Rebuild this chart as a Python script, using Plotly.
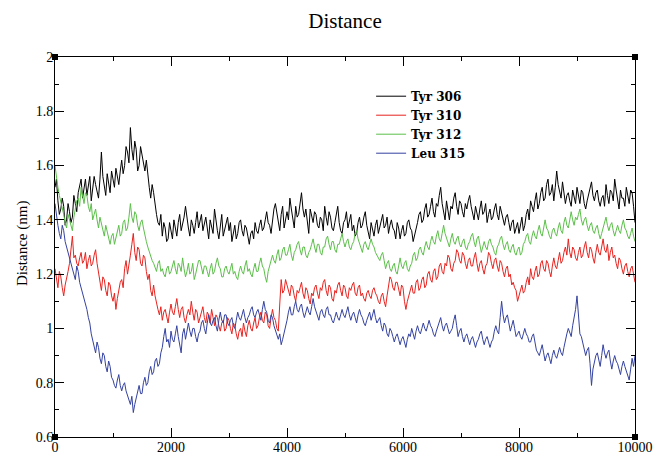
import plotly.graph_objects as go

STEP_PS = 25

tyr306 = [
    1.52, 1.55, 1.47, 1.42, 1.44, 1.48, 1.45, 1.38, 1.40, 1.46, 1.43, 1.39, 1.41, 1.49, 1.46, 1.43, 1.50, 1.53, 1.55, 1.48,
    1.52, 1.55, 1.49, 1.52, 1.56, 1.47, 1.51, 1.56, 1.53, 1.50, 1.48, 1.55, 1.65, 1.56, 1.52, 1.49, 1.57, 1.53, 1.50, 1.58,
    1.55, 1.52, 1.59, 1.56, 1.53, 1.58, 1.62, 1.57, 1.60, 1.67, 1.65, 1.61, 1.74, 1.66, 1.62, 1.69, 1.66, 1.58, 1.60, 1.67,
    1.64, 1.60, 1.58, 1.62, 1.56, 1.52, 1.48, 1.53, 1.50, 1.45, 1.42, 1.39, 1.38, 1.42, 1.34, 1.39, 1.37, 1.32, 1.33, 1.39,
    1.36, 1.33, 1.40, 1.37, 1.34, 1.39, 1.42, 1.36, 1.38, 1.41, 1.45, 1.40, 1.37, 1.34, 1.40, 1.38, 1.35, 1.39, 1.43, 1.37,
    1.39, 1.42, 1.36, 1.38, 1.41, 1.37, 1.33, 1.40, 1.38, 1.35, 1.44, 1.39, 1.36, 1.33, 1.39, 1.42, 1.34, 1.36, 1.38, 1.41,
    1.36, 1.39, 1.32, 1.35, 1.38, 1.33, 1.35, 1.39, 1.40, 1.36, 1.34, 1.38, 1.37, 1.34, 1.31, 1.35, 1.36, 1.33, 1.39, 1.36,
    1.35, 1.38, 1.40, 1.36, 1.37, 1.40, 1.43, 1.39, 1.38, 1.35, 1.41, 1.44, 1.46, 1.42, 1.39, 1.36, 1.42, 1.45, 1.37, 1.40,
    1.43, 1.40, 1.48, 1.44, 1.40, 1.37, 1.45, 1.41, 1.42, 1.46, 1.50, 1.44, 1.41, 1.44, 1.38, 1.35, 1.44, 1.41, 1.39, 1.43,
    1.42, 1.38, 1.37, 1.41, 1.40, 1.36, 1.45, 1.41, 1.38, 1.43, 1.41, 1.37, 1.36, 1.39, 1.42, 1.45, 1.39, 1.36, 1.35, 1.39,
    1.40, 1.43, 1.37, 1.40, 1.42, 1.36, 1.38, 1.34, 1.35, 1.39, 1.41, 1.37, 1.38, 1.41, 1.43, 1.38, 1.36, 1.33, 1.39, 1.36,
    1.34, 1.38, 1.40, 1.35, 1.37, 1.40, 1.42, 1.37, 1.38, 1.41, 1.35, 1.38, 1.40, 1.37, 1.36, 1.33, 1.39, 1.37, 1.33, 1.36,
    1.38, 1.34, 1.35, 1.39, 1.40, 1.37, 1.36, 1.32, 1.34, 1.37, 1.39, 1.42, 1.43, 1.39, 1.40, 1.44, 1.46, 1.41, 1.42, 1.45,
    1.48, 1.43, 1.41, 1.46, 1.45, 1.49, 1.52, 1.46, 1.43, 1.40, 1.47, 1.43, 1.40, 1.45, 1.44, 1.48, 1.50, 1.45, 1.42, 1.47,
    1.46, 1.43, 1.41, 1.46, 1.44, 1.47, 1.49, 1.45, 1.42, 1.40, 1.45, 1.42, 1.40, 1.44, 1.47, 1.42, 1.43, 1.46, 1.39, 1.42,
    1.44, 1.40, 1.41, 1.44, 1.46, 1.42, 1.40, 1.45, 1.43, 1.40, 1.38, 1.41, 1.42, 1.39, 1.36, 1.39, 1.40, 1.35, 1.37, 1.39,
    1.35, 1.38, 1.41, 1.36, 1.38, 1.42, 1.44, 1.40, 1.47, 1.45, 1.43, 1.47, 1.50, 1.44, 1.46, 1.50, 1.52, 1.47, 1.48, 1.53,
    1.55, 1.49, 1.50, 1.53, 1.47, 1.52, 1.58, 1.53, 1.51, 1.48, 1.54, 1.50, 1.46, 1.49, 1.50, 1.47, 1.45, 1.51, 1.49, 1.46,
    1.52, 1.48, 1.46, 1.51, 1.50, 1.46, 1.44, 1.47, 1.49, 1.52, 1.54, 1.49, 1.47, 1.50, 1.51, 1.47, 1.45, 1.48, 1.49, 1.45,
    1.53, 1.49, 1.46, 1.51, 1.50, 1.47, 1.55, 1.51, 1.47, 1.44, 1.51, 1.48, 1.48, 1.45, 1.52, 1.49, 1.46, 1.51, 1.50, 1.45,
    1.39,
]

tyr310 = [
    1.22, 1.18, 1.15, 1.21, 1.19, 1.15, 1.12, 1.16, 1.18, 1.21, 1.24, 1.29, 1.34, 1.26, 1.27, 1.24, 1.23, 1.26, 1.28, 1.24,
    1.25, 1.28, 1.22, 1.25, 1.27, 1.23, 1.24, 1.27, 1.29, 1.24, 1.20, 1.17, 1.14, 1.19, 1.18, 1.14, 1.12, 1.17, 1.16, 1.12,
    1.10, 1.13, 1.07, 1.11, 1.14, 1.17, 1.18, 1.15, 1.22, 1.25, 1.20, 1.23, 1.27, 1.31, 1.35, 1.28, 1.25, 1.30, 1.29, 1.24,
    1.23, 1.27, 1.26, 1.21, 1.18, 1.20, 1.14, 1.12, 1.16, 1.12, 1.09, 1.07, 1.05, 1.08, 1.03, 1.06, 1.07, 1.04, 1.02, 1.06,
    1.09, 1.06, 1.05, 1.08, 1.11, 1.07, 1.04, 1.07, 1.08, 1.04, 1.02, 1.05, 1.07, 1.05, 1.10, 1.06, 1.03, 1.07, 1.06, 1.02,
    1.04, 1.07, 1.08, 1.04, 1.02, 1.06, 1.05, 1.02, 1.07, 1.04, 1.01, 1.05, 1.04, 1.01, 0.99, 1.02, 1.03, 0.99, 1.00, 1.04,
    1.03, 1.00, 0.98, 1.02, 1.01, 0.98, 0.96, 0.99, 1.00, 0.97, 1.02, 0.99, 0.97, 1.01, 1.03, 1.00, 0.99, 1.02, 1.04, 1.00,
    1.01, 1.04, 1.06, 1.03, 1.02, 1.06, 1.05, 1.01, 1.00, 1.04, 1.07, 1.04, 1.03, 1.00, 0.99, 1.09, 1.18, 1.13, 1.14, 1.18,
    1.16, 1.13, 1.12, 1.16, 1.15, 1.12, 1.10, 1.14, 1.13, 1.15, 1.17, 1.13, 1.11, 1.15, 1.14, 1.11, 1.09, 1.13, 1.12, 1.15,
    1.16, 1.13, 1.11, 1.15, 1.14, 1.17, 1.18, 1.14, 1.12, 1.16, 1.15, 1.11, 1.10, 1.14, 1.13, 1.16, 1.17, 1.14, 1.12, 1.16,
    1.15, 1.12, 1.11, 1.15, 1.14, 1.16, 1.17, 1.13, 1.12, 1.15, 1.16, 1.12, 1.13, 1.11, 1.10, 1.13, 1.14, 1.12, 1.11, 1.14,
    1.15, 1.13, 1.12, 1.10, 1.09, 1.12, 1.13, 1.10, 1.08, 1.12, 1.16, 1.19, 1.18, 1.15, 1.14, 1.17, 1.17, 1.14, 1.12, 1.16,
    1.15, 1.10, 1.07, 1.10, 1.12, 1.15, 1.16, 1.13, 1.13, 1.17, 1.18, 1.14, 1.15, 1.18, 1.19, 1.15, 1.16, 1.20, 1.21, 1.18,
    1.17, 1.21, 1.22, 1.18, 1.19, 1.23, 1.24, 1.21, 1.20, 1.24, 1.23, 1.27, 1.26, 1.22, 1.21, 1.24, 1.25, 1.29, 1.28, 1.25,
    1.24, 1.28, 1.27, 1.24, 1.22, 1.25, 1.26, 1.23, 1.23, 1.26, 1.28, 1.24, 1.21, 1.24, 1.25, 1.22, 1.20, 1.23, 1.24, 1.28,
    1.27, 1.24, 1.22, 1.25, 1.26, 1.23, 1.21, 1.25, 1.24, 1.21, 1.19, 1.22, 1.23, 1.19, 1.20, 1.16, 1.17, 1.15, 1.14, 1.10,
    1.12, 1.15, 1.16, 1.13, 1.14, 1.17, 1.19, 1.16, 1.22, 1.19, 1.18, 1.21, 1.23, 1.19, 1.20, 1.24, 1.25, 1.22, 1.21, 1.25,
    1.24, 1.21, 1.19, 1.23, 1.26, 1.23, 1.22, 1.25, 1.28, 1.24, 1.25, 1.28, 1.30, 1.27, 1.33, 1.28, 1.26, 1.30, 1.29, 1.26,
    1.25, 1.28, 1.30, 1.26, 1.27, 1.30, 1.32, 1.28, 1.26, 1.30, 1.29, 1.26, 1.24, 1.28, 1.31, 1.28, 1.27, 1.30, 1.33, 1.29,
    1.28, 1.31, 1.25, 1.28, 1.30, 1.26, 1.27, 1.24, 1.22, 1.26, 1.25, 1.22, 1.20, 1.23, 1.24, 1.21, 1.19, 1.22, 1.23, 1.20,
    1.17,
]

tyr312 = [
    1.60, 1.55, 1.52, 1.49, 1.47, 1.44, 1.42, 1.39, 1.37, 1.42, 1.40, 1.38, 1.36, 1.41, 1.44, 1.47, 1.48, 1.45, 1.52, 1.48,
    1.46, 1.50, 1.49, 1.45, 1.43, 1.46, 1.40, 1.42, 1.44, 1.40, 1.37, 1.41, 1.39, 1.36, 1.34, 1.38, 1.36, 1.33, 1.31, 1.34,
    1.35, 1.31, 1.33, 1.36, 1.38, 1.34, 1.35, 1.39, 1.40, 1.36, 1.37, 1.41, 1.46, 1.41, 1.39, 1.43, 1.42, 1.38, 1.36, 1.39,
    1.40, 1.37, 1.34, 1.32, 1.30, 1.28, 1.27, 1.25, 1.24, 1.22, 1.21, 1.24, 1.25, 1.21, 1.22, 1.20, 1.19, 1.22, 1.23, 1.20,
    1.21, 1.23, 1.25, 1.22, 1.20, 1.24, 1.23, 1.21, 1.26, 1.22, 1.19, 1.21, 1.24, 1.20, 1.21, 1.24, 1.18, 1.20, 1.22, 1.25,
    1.25, 1.22, 1.20, 1.23, 1.23, 1.21, 1.19, 1.22, 1.24, 1.20, 1.21, 1.24, 1.26, 1.23, 1.22, 1.19, 1.19, 1.22, 1.23, 1.21,
    1.20, 1.22, 1.24, 1.20, 1.21, 1.19, 1.18, 1.21, 1.23, 1.21, 1.20, 1.23, 1.25, 1.21, 1.22, 1.20, 1.19, 1.22, 1.24, 1.21,
    1.21, 1.24, 1.26, 1.23, 1.22, 1.19, 1.17, 1.21, 1.23, 1.26, 1.27, 1.25, 1.24, 1.27, 1.29, 1.25, 1.26, 1.29, 1.30, 1.27,
    1.27, 1.29, 1.31, 1.27, 1.25, 1.28, 1.29, 1.31, 1.32, 1.29, 1.27, 1.30, 1.30, 1.27, 1.26, 1.28, 1.29, 1.31, 1.33, 1.30,
    1.28, 1.31, 1.31, 1.28, 1.27, 1.30, 1.30, 1.33, 1.34, 1.31, 1.29, 1.32, 1.32, 1.29, 1.28, 1.31, 1.31, 1.33, 1.35, 1.32,
    1.30, 1.32, 1.33, 1.30, 1.29, 1.31, 1.32, 1.35, 1.36, 1.33, 1.31, 1.29, 1.28, 1.31, 1.32, 1.30, 1.29, 1.31, 1.33, 1.31,
    1.30, 1.28, 1.27, 1.26, 1.25, 1.27, 1.28, 1.25, 1.22, 1.24, 1.25, 1.22, 1.21, 1.23, 1.24, 1.21, 1.20, 1.23, 1.26, 1.23,
    1.22, 1.24, 1.25, 1.22, 1.21, 1.23, 1.24, 1.27, 1.28, 1.25, 1.26, 1.29, 1.30, 1.28, 1.27, 1.30, 1.32, 1.30, 1.29, 1.32,
    1.34, 1.32, 1.31, 1.34, 1.36, 1.33, 1.32, 1.35, 1.38, 1.35, 1.33, 1.31, 1.30, 1.33, 1.35, 1.32, 1.31, 1.33, 1.34, 1.31,
    1.30, 1.32, 1.33, 1.30, 1.29, 1.31, 1.32, 1.34, 1.35, 1.32, 1.30, 1.33, 1.34, 1.31, 1.28, 1.30, 1.32, 1.30, 1.29, 1.32,
    1.33, 1.31, 1.30, 1.28, 1.27, 1.30, 1.31, 1.33, 1.34, 1.31, 1.29, 1.31, 1.32, 1.29, 1.28, 1.30, 1.31, 1.28, 1.27, 1.29,
    1.30, 1.27, 1.28, 1.31, 1.32, 1.34, 1.35, 1.32, 1.31, 1.34, 1.36, 1.34, 1.33, 1.36, 1.38, 1.35, 1.34, 1.37, 1.40, 1.37,
    1.36, 1.34, 1.33, 1.36, 1.37, 1.35, 1.34, 1.37, 1.39, 1.36, 1.35, 1.39, 1.41, 1.38, 1.37, 1.40, 1.43, 1.40, 1.38, 1.41,
    1.40, 1.42, 1.44, 1.40, 1.38, 1.40, 1.41, 1.38, 1.36, 1.38, 1.39, 1.36, 1.35, 1.37, 1.38, 1.35, 1.33, 1.35, 1.37, 1.39,
    1.41, 1.38, 1.36, 1.38, 1.39, 1.36, 1.34, 1.36, 1.38, 1.36, 1.35, 1.38, 1.40, 1.37, 1.36, 1.34, 1.33, 1.35, 1.37, 1.34,
    1.32,
]

leu315 = [
    1.46, 1.41, 1.38, 1.35, 1.33, 1.38, 1.36, 1.32, 1.30, 1.27, 1.26, 1.23, 1.22, 1.20, 1.18, 1.23, 1.21, 1.17, 1.15, 1.13,
    1.12, 1.09, 1.07, 1.04, 1.02, 0.98, 0.96, 0.93, 0.91, 0.95, 0.93, 0.89, 0.87, 0.91, 0.90, 0.86, 0.84, 0.88, 0.86, 0.82,
    0.81, 0.79, 0.78, 0.81, 0.83, 0.79, 0.77, 0.79, 0.80, 0.77, 0.75, 0.74, 0.72, 0.75, 0.69, 0.72, 0.74, 0.77, 0.79, 0.76,
    0.76, 0.80, 0.82, 0.79, 0.80, 0.84, 0.86, 0.83, 0.84, 0.88, 0.89, 0.86, 0.87, 0.91, 0.93, 0.97, 1.00, 0.95, 0.96, 0.93,
    0.99, 0.96, 0.95, 0.98, 1.01, 0.97, 0.93, 0.91, 0.98, 1.00, 0.96, 0.99, 1.02, 0.99, 0.97, 1.00, 1.00, 0.97, 0.95, 0.98,
    0.99, 1.02, 1.03, 1.00, 0.98, 1.02, 1.05, 1.02, 1.01, 1.03, 1.04, 1.01, 0.99, 1.03, 1.06, 1.03, 1.02, 1.05, 1.05, 1.02,
    1.01, 1.03, 1.04, 1.01, 1.00, 1.03, 1.06, 1.04, 1.03, 1.05, 1.07, 1.04, 1.02, 1.04, 1.05, 1.07, 1.08, 1.05, 1.04, 1.06,
    1.07, 1.05, 1.03, 1.07, 1.10, 1.07, 1.06, 1.03, 1.02, 1.05, 1.04, 1.01, 0.99, 0.97, 0.96, 0.98, 0.94, 0.96, 0.98, 1.01,
    1.03, 1.06, 1.08, 1.05, 1.05, 1.08, 1.10, 1.07, 1.06, 1.08, 1.09, 1.06, 1.04, 1.06, 1.08, 1.06, 1.05, 1.08, 1.11, 1.08,
    1.06, 1.04, 1.03, 1.06, 1.07, 1.05, 1.04, 1.07, 1.08, 1.05, 1.05, 1.03, 1.02, 1.04, 1.06, 1.04, 1.03, 1.05, 1.07, 1.05,
    1.04, 1.06, 1.08, 1.05, 1.03, 1.05, 1.06, 1.04, 1.02, 1.05, 1.07, 1.05, 1.04, 1.02, 1.01, 1.03, 1.05, 1.06, 1.03, 1.05,
    1.07, 1.04, 1.02, 1.03, 1.04, 1.01, 0.99, 1.02, 1.01, 0.98, 0.97, 1.00, 0.99, 0.97, 0.95, 0.97, 0.98, 0.96, 0.94, 0.96,
    0.97, 0.95, 0.93, 0.96, 0.98, 0.97, 1.00, 0.98, 0.96, 0.99, 1.01, 0.99, 0.98, 1.00, 1.02, 1.00, 0.99, 1.01, 1.03, 1.01,
    1.00, 0.98, 0.97, 0.99, 1.01, 1.03, 1.04, 1.01, 0.99, 1.01, 1.02, 1.00, 0.98, 0.99, 1.00, 1.03, 1.05, 1.01, 0.97, 0.99,
    1.00, 0.97, 0.95, 0.97, 0.98, 0.96, 0.94, 0.96, 0.97, 0.95, 0.93, 0.95, 0.96, 0.98, 0.99, 0.96, 0.94, 0.96, 0.97, 0.95,
    0.93, 0.95, 0.96, 0.99, 1.01, 0.99, 0.98, 1.04, 1.10, 1.05, 1.02, 1.04, 1.05, 1.02, 0.99, 1.01, 1.03, 1.00, 0.97, 0.98,
    0.99, 0.97, 0.96, 0.98, 1.00, 0.98, 0.97, 0.95, 0.95, 0.97, 0.98, 0.95, 0.92, 0.91, 0.90, 0.92, 0.94, 0.91, 0.88, 0.90,
    0.91, 0.89, 0.87, 0.90, 0.92, 0.90, 0.89, 0.91, 0.93, 0.91, 0.90, 0.93, 0.96, 0.98, 1.00, 0.98, 0.97, 1.01, 1.04, 1.07,
    1.12, 1.03, 0.98, 0.97, 0.95, 0.92, 0.90, 0.92, 0.93, 0.87, 0.79, 0.85, 0.88, 0.90, 0.91, 0.88, 0.86, 0.90, 0.94, 0.91,
    0.89, 0.91, 0.92, 0.88, 0.85, 0.88, 0.90, 0.88, 0.87, 0.85, 0.83, 0.86, 0.88, 0.86, 0.84, 0.82, 0.81, 0.85, 0.89, 0.86,
    0.90,
]

series_names = ["Tyr 306", "Tyr 310", "Tyr 312", "Leu 315"]
series_values = [tyr306, tyr310, tyr312, leu315]
series_colors = ["#000000", "#e8231f", "#5cbf4a", "#3442a0"]

x_ticks = [0, 2000, 4000, 6000, 8000, 10000]
y_ticks = [0.6, 0.8, 1.0, 1.2, 1.4, 1.6, 1.8, 2.0]

fig = go.Figure()
for name, vals, col in zip(series_names, series_values, series_colors):
    fig.add_trace(go.Scatter(x=[i * STEP_PS for i in range(len(vals))], y=vals,
                             mode="lines", name=name,
                             line=dict(color=col, width=1)))

serif = "'Liberation Serif', 'Times New Roman', serif"
axis_common = dict(
    showline=True, linecolor="black", linewidth=1, mirror="allticks",
    ticks="inside", ticklen=9, tickcolor="black", tickwidth=1,
    showgrid=False, zeroline=False, automargin=False,
    tickfont=dict(family=serif, size=14, color="black"),
)

fig.update_layout(
    width=657, height=455,
    margin=dict(l=55, r=22, t=57, b=18),
    paper_bgcolor="white", plot_bgcolor="white",
    title=dict(text="Distance", xref="paper", x=0.5, xanchor="center",
               yref="container", y=0.955, yanchor="middle",
               font=dict(family=serif, size=21, color="black")),
    xaxis=dict(range=[0, 10000], tickvals=x_ticks, tickformat="d", ticklabelstandoff=-3,
               minor=dict(ticks="inside", ticklen=4, dtick=1000, tickcolor="black"),
               **axis_common),
    yaxis=dict(range=[0.6, 2.0], tickvals=y_ticks, ticklabelstandoff=-2,
               minor=dict(ticks="inside", ticklen=4, dtick=0.1, tickcolor="black"),
               **axis_common),
    legend=dict(x=0.545, y=0.935, xanchor="left", yanchor="top",
                bgcolor="rgba(0,0,0,0)", borderwidth=0,
                font=dict(family="DejaVu Serif", size=12, color="black", weight="bold"),
                itemwidth=30),
    showlegend=True,
)

fig.add_annotation(text="Distance (nm)", xref="paper", yref="paper",
                   x=0, y=0.5, xanchor="center", yanchor="middle",
                   xshift=-33, yshift=3, textangle=-90, showarrow=False,
                   font=dict(family=serif, size=15, color="black"))

for px in (0, 1):
    for py in (0, 1):
        fig.add_shape(type="rect", xref="paper", yref="paper",
                      xsizemode="pixel", ysizemode="pixel",
                      xanchor=px, yanchor=py, x0=-3, x1=3, y0=-3, y1=3,
                      fillcolor="black", line=dict(color="black", width=0))

fig.write_html("out.html", config={"displayModeBar": False},
               post_script="document.body.style.margin='0';document.body.style.overflow='hidden';")
